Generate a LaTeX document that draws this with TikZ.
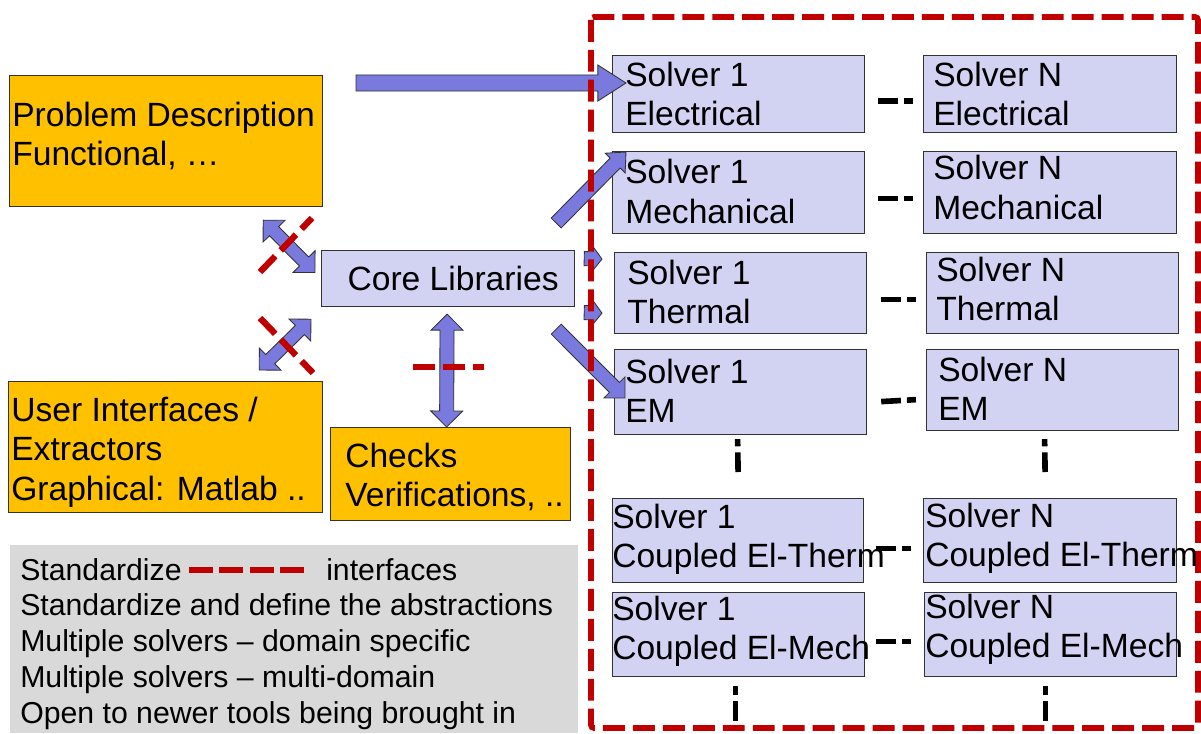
\documentclass[tikz,border=0pt]{standalone}
\usepackage{fontspec}
\setmainfont{Liberation Sans}
\usetikzlibrary{calc}

\definecolor{probfill}{RGB}{255,192,0}
\definecolor{solverfill}{RGB}{210,210,242}
\definecolor{arrowfill}{RGB}{122,122,222}
\definecolor{ifacered}{RGB}{192,0,0}
\definecolor{legendgray}{RGB}{217,217,217}
\definecolor{boxline}{RGB}{50,50,50}

\newcommand{\bigfont}{\fontsize{23.9}{27.9}\selectfont}
\newcommand{\legfont}{\fontsize{21.5}{25.6}\selectfont}

% block arrow: from, to, shaft half width, head half width, head length
\newcommand{\blockarrow}[5]{%
  \draw[blockarr] let \p1=(#1), \p2=(#2),
      \n1={atan2(\y2-\y1,\x2-\x1)}, \n2={veclen(\x2-\x1,\y2-\y1)} in
    [shift={(\p1)}, rotate=\n1]
    (0pt,-#3) -- ({\n2-#5},-#3) -- ({\n2-#5},-#4) -- (\n2,0pt)
    -- ({\n2-#5},#4) -- ({\n2-#5},#3) -- (0pt,#3) -- cycle;}
\newcommand{\dblarrow}[5]{%
  \draw[blockarr] let \p1=(#1), \p2=(#2),
      \n1={atan2(\y2-\y1,\x2-\x1)}, \n2={veclen(\x2-\x1,\y2-\y1)} in
    [shift={(\p1)}, rotate=\n1]
    (0pt,0pt) -- (#5,#4) -- (#5,#3) -- ({\n2-#5},#3) -- ({\n2-#5},#4) -- (\n2,0pt)
    -- ({\n2-#5},-#4) -- ({\n2-#5},-#3) -- (#5,-#3) -- (#5,-#4) -- cycle;}

\begin{document}
\begin{tikzpicture}[x=0.025cm, y=-0.025cm,
    box/.style={draw=boxline, line width=0.8pt, anchor=north west, inner sep=0pt},
    problem box/.style={box, fill=probfill},
    solver/.style={box, fill=solverfill, minimum width=6.3cm},
    txt/.style={font=\bigfont, align=left, inner sep=0pt, anchor=west},
    blockarr/.style={draw=boxline, fill=arrowfill, line width=0.6pt},
    iface/.style={draw=ifacered, line width=4.5pt, dash pattern=on 15.6pt off 5.7pt},
    more/.style={draw=black, line width=4pt, dash pattern=on 14pt off 4.3pt on 6.4pt off 40pt}]

\useasboundingbox (0,0) rectangle (1201,733);

% legend
\node[fill=legendgray, anchor=north west, inner sep=0pt, minimum width=14.2cm, minimum height=4.7cm] (legend) at (10,545) {};
\node[txt, font=\legfont] (leg-std) at (20,570) {Standardize};
\node[txt, font=\legfont] (leg-if) at (326,570) {interfaces};
\draw[iface, line width=4.2pt, dash pattern=on 17pt off 4.6pt] ($(leg-std.east)+(7,0)$) -- ($(leg-if.west)+(-21,0)$);
\node[txt, font=\legfont] (leg-rest) at (20,662) {Standardize and define the abstractions\\Multiple solvers -- domain specific\\Multiple solvers -- multi-domain\\Open to newer tools being brought in};

% left side
\node[problem box, minimum width=7.825cm, minimum height=3.275cm] (problem) at (9,75) {};
\node[problem box, minimum width=7.85cm, minimum height=3.275cm] (ui) at (8,381) {};
\node[problem box, minimum width=6cm, minimum height=2.325cm] (checks) at (330,427) {};
\node[box, fill=solverfill, minimum width=6.325cm, minimum height=1.4cm] (core) at (321,250) {};

% solvers
\node[solver, minimum height=1.925cm] (s1-elec) at (612,55) {};
\node[solver, minimum width=6.325cm, minimum height=1.925cm] (sn-elec) at (923,55) {};
\node[solver, minimum height=2.05cm] (s1-mech) at (612,151) {};
\node[solver, minimum width=6.325cm, minimum height=2.05cm] (sn-mech) at (923,151) {};
\node[solver, minimum height=2.025cm] (s1-therm) at (614,252) {};
\node[solver, minimum height=2.025cm] (sn-therm) at (926,252) {};
\node[solver, minimum height=2.125cm] (s1-em) at (614,349) {};
\node[solver, minimum height=2.025cm] (sn-em) at (926,349) {};
\node[solver, minimum width=6.275cm, minimum height=2.1cm] (s1-elth) at (612,498) {};
\node[solver, minimum width=6.325cm, minimum height=2.1cm] (sn-elth) at (923,498) {};
\node[solver, minimum height=2.1cm] (s1-elme) at (612,592) {};
\node[solver, minimum height=2.1cm] (sn-elme) at (924,592) {};

% block arrows
\coordinate (in-arr) at (356,83);
\blockarrow{in-arr}{$(s1-elec.north west)+(14,28)$}{5.7pt}{12.8pt}{20pt}
\blockarrow{$(core.north east)+(-19,-27)$}{$(s1-mech.north west)+(14,1)$}{5pt}{10pt}{11pt}
\blockarrow{$(core.east)+(9,-20)$}{$(s1-therm.west)+(-12,-34)$}{5pt}{8.5pt}{6.5pt}
\blockarrow{$(core.east)+(9,34)$}{$(s1-therm.west)+(-12,20)$}{5pt}{8.5pt}{6.5pt}
\blockarrow{$(core.south east)+(-19,22)$}{$(s1-em.north west)+(11,49)$}{5pt}{10.6pt}{10.6pt}
\dblarrow{$(problem.south east)+(-60,13)$}{$(core.west)+(-6,-6)$}{4.6pt}{11pt}{11pt}
\dblarrow{$(ui.north east)+(-64,-11)$}{$(core.south west)+(-10,12)$}{4.6pt}{11pt}{11pt}
\dblarrow{$(core.south)+(-1,7)$}{$(checks.north)+(-4,0)$}{5pt}{11.4pt}{11.4pt}

% interfaces
\draw[iface, line width=4pt, rounded corners=2pt] (591,17) rectangle (1198,728);
\draw[iface] (260,272) -- (312,218);
\draw[iface] (260,318) -- (313,373);
\draw[iface] (413,367) -- (484,367);

% more solvers
\draw[more] ($(s1-elec.east)+(13,7)$) -- ($(sn-elec.west)+(-9,7)$);
\draw[more] ($(s1-mech.east)+(13,6)$) -- ($(sn-mech.west)+(-9,6)$);
\draw[more] ($(s1-therm.east)+(14,6.5)$) -- ($(sn-therm.west)+(-10,6.5)$);
\draw[more] ($(s1-em.east)+(14,9.5)$) -- ($(sn-em.west)+(-9,9.5)$);
\draw[more] ($(s1-elth.east)+(12,8)$) -- ($(sn-elth.west)+(-11,8)$);
\draw[more] ($(s1-elme.east)+(11,7)$) -- ($(sn-elme.west)+(-12,7)$);
\draw[more] ($(s1-elth.north)+(0,-26)$) -- ($(s1-em.south)+(-3,4)$);
\draw[more] ($(sn-elth.north)+(-5,-26)$) -- ($(sn-em.south)+(-8,8)$);
\draw[more] ($(s1-elme.south)+(-3,44)$) -- ($(s1-elme.south)+(-3,7)$);
\draw[more] ($(sn-elme.south)+(-5,44)$) -- ($(sn-elme.south)+(-5,7)$);

% texts
\node[txt] (problem-t) at ($(problem.west)+(3,-5)$) {Problem Description\\Functional, …};
\node[txt] (ui-t) at ($(ui.west)+(3,5)$) {User Interfaces /\\Extractors\\Graphical: Matlab ..};
\node[txt] (checks-t) at ($(checks.west)+(15,3)$) {Checks\\Verifications, ..};
\node[txt, anchor=center] (core-t) at ($(core.center)+(5,0)$) {Core Libraries};
\node[txt] (s1-elec-t) at ($(s1-elec.west)+(13,0)$) {Solver 1\\Electrical};
\node[txt] (sn-elec-t) at ($(sn-elec.west)+(10,0)$) {Solver N\\Electrical};
\node[txt] (s1-mech-t) at ($(s1-mech.west)+(13,-1)$) {Solver 1\\Mechanical};
\node[txt] (sn-mech-t) at ($(sn-mech.west)+(10,-5)$) {Solver N\\Mechanical};
\node[txt] (s1-therm-t) at ($(s1-therm.west)+(13,-1)$) {Solver 1\\Thermal};
\node[txt] (sn-therm-t) at ($(sn-therm.west)+(10,-4)$) {Solver N\\Thermal};
\node[txt] (s1-em-t) at ($(s1-em.west)+(11,-1)$) {Solver 1\\EM};
\node[txt] (sn-em-t) at ($(sn-em.west)+(12,-1)$) {Solver N\\EM};
\node[txt] (s1-elth-t) at ($(s1-elth.west)+(0,-1)$) {Solver 1\\Coupled El-Therm};
\node[txt] (sn-elth-t) at ($(sn-elth.west)+(2,-2)$) {Solver N\\Coupled El-Therm};
\node[txt] (s1-elme-t) at ($(s1-elme.west)+(0,-3)$) {Solver 1\\Coupled El-Mech};
\node[txt] (sn-elme-t) at ($(sn-elme.west)+(1,-5)$) {Solver N\\Coupled El-Mech};
\end{tikzpicture}
\end{document}
